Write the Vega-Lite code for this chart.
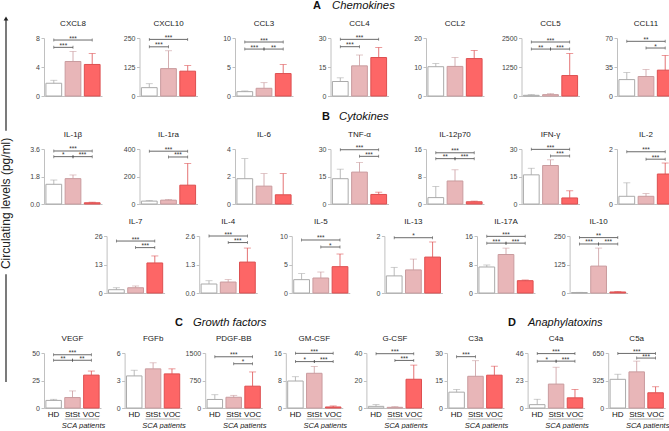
{
"$schema":"https://vega.github.io/schema/vega-lite/v6.json",
"padding":0,
"spacing":17,
"data":{"values":[
{"p":"CXCL8","g":"HD","v":1.76,"u":2.17},{"p":"CXCL8","g":"StSt","v":4.76,"u":6.15},{"p":"CXCL8","g":"VOC","v":4.35,"u":5.87},
{"p":"CXCL10","g":"HD","v":36,"u":53},{"p":"CXCL10","g":"StSt","v":118,"u":195},{"p":"CXCL10","g":"VOC","v":107,"u":131},
{"p":"CCL3","g":"HD","v":0.75,"u":0.87},{"p":"CCL3","g":"StSt","v":1.33,"u":2.3},{"p":"CCL3","g":"VOC","v":3.87,"u":5.43},
{"p":"CCL4","g":"HD","v":7.5,"u":9.4},{"p":"CCL4","g":"StSt","v":15.6,"u":21.2},{"p":"CCL4","g":"VOC","v":19.9,"u":25.1},
{"p":"CCL2","g":"HD","v":10.1,"u":11.2},{"p":"CCL2","g":"StSt","v":10.2,"u":13.3},{"p":"CCL2","g":"VOC","v":12.9,"u":15.7},
{"p":"CCL5","g":"HD","v":30,"u":58},{"p":"CCL5","g":"StSt","v":58,"u":100},{"p":"CCL5","g":"VOC","v":881,"u":1835},
{"p":"CCL11","g":"HD","v":19.8,"u":28.3},{"p":"CCL11","g":"StSt","v":23.5,"u":32},{"p":"CCL11","g":"VOC","v":31.2,"u":49},
{"p":"IL-1β","g":"HD","v":1.29,"u":1.57},{"p":"IL-1β","g":"StSt","v":1.66,"u":1.9},{"p":"IL-1β","g":"VOC","v":0.08,"u":0.12},
{"p":"IL-1ra","g":"HD","v":21,"u":26},{"p":"IL-1ra","g":"StSt","v":28,"u":33},{"p":"IL-1ra","g":"VOC","v":137,"u":295},
{"p":"IL-6","g":"HD","v":1.84,"u":3.3},{"p":"IL-6","g":"StSt","v":1.3,"u":2.21},{"p":"IL-6","g":"VOC","v":0.67,"u":2.21},
{"p":"TNF-α","g":"HD","v":13.8,"u":19},{"p":"TNF-α","g":"StSt","v":17.4,"u":22.7},{"p":"TNF-α","g":"VOC","v":5.2,"u":6.45},
{"p":"IL-12p70","g":"HD","v":1.86,"u":5.1},{"p":"IL-12p70","g":"StSt","v":6.7,"u":9.95},{"p":"IL-12p70","g":"VOC","v":0.65,"u":0.84},
{"p":"IFN-γ","g":"HD","v":15.9,"u":19.5},{"p":"IFN-γ","g":"StSt","v":21,"u":24.1},{"p":"IFN-γ","g":"VOC","v":3.3,"u":7.2},
{"p":"IL-2","g":"HD","v":0.28,"u":0.77},{"p":"IL-2","g":"StSt","v":0.28,"u":0.38},{"p":"IL-2","g":"VOC","v":1.09,"u":1.49},
{"p":"IL-7","g":"HD","v":1.5,"u":2.4},{"p":"IL-7","g":"StSt","v":2.4,"u":3.2},{"p":"IL-7","g":"VOC","v":13.7,"u":16.9},
{"p":"IL-4","g":"HD","v":0.41,"u":0.56},{"p":"IL-4","g":"StSt","v":0.5,"u":0.61},{"p":"IL-4","g":"VOC","v":1.41,"u":2.05},
{"p":"IL-5","g":"HD","v":2.34,"u":3.4},{"p":"IL-5","g":"StSt","v":2.63,"u":3.68},{"p":"IL-5","g":"VOC","v":4.62,"u":6.84},
{"p":"IL-13","g":"HD","v":0.6,"u":0.9},{"p":"IL-13","g":"StSt","v":0.81,"u":1.19},{"p":"IL-13","g":"VOC","v":1.26,"u":1.79},
{"p":"IL-17A","g":"HD","v":7.3,"u":7.86},{"p":"IL-17A","g":"StSt","v":10.8,"u":12.6},{"p":"IL-17A","g":"VOC","v":3.46,"u":3.65},
{"p":"IL-10","g":"HD","v":2,"u":3},{"p":"IL-10","g":"StSt","v":118,"u":197},{"p":"IL-10","g":"VOC","v":4.4,"u":6},
{"p":"VEGF","g":"HD","v":6.9,"u":7.9},{"p":"VEGF","g":"StSt","v":9.5,"u":15.5},{"p":"VEGF","g":"VOC","v":29.9,"u":33.6},
{"p":"FGFb","g":"HD","v":3.5,"u":4.12},{"p":"FGFb","g":"StSt","v":4.27,"u":4.93},{"p":"FGFb","g":"VOC","v":3.72,"u":4.27},
{"p":"PDGF-BB","g":"HD","v":233,"u":362},{"p":"PDGF-BB","g":"StSt","v":293,"u":345},{"p":"PDGF-BB","g":"VOC","v":595,"u":983},
{"p":"GM-CSF","g":"HD","v":7.85,"u":9.1},{"p":"GM-CSF","g":"StSt","v":10.1,"u":12.1},{"p":"GM-CSF","g":"VOC","v":0.3,"u":0.6},
{"p":"G-CSF","g":"HD","v":1.2,"u":2.5},{"p":"G-CSF","g":"StSt","v":0.5,"u":1},{"p":"G-CSF","g":"VOC","v":20.9,"u":31.2},
{"p":"C3a","g":"HD","v":8.65,"u":10.1},{"p":"C3a","g":"StSt","v":17.3,"u":25.8},{"p":"C3a","g":"VOC","v":17.9,"u":22.8},
{"p":"C4a","g":"HD","v":2.8,"u":7.3},{"p":"C4a","g":"StSt","v":20,"u":34.1},{"p":"C4a","g":"VOC","v":8.5,"u":15.5},
{"p":"C5a","g":"HD","v":339,"u":399},{"p":"C5a","g":"StSt","v":427,"u":554},{"p":"C5a","g":"VOC","v":180,"u":251},
{"p":"CXCL8","g":"HD","g2":"VOC","v":7.72,"t":"***"},{"p":"CXCL8","g":"HD","g2":"StSt","v":6.71,"t":"***"},
{"p":"CXCL10","g":"HD","g2":"VOC","v":244,"t":"***"},{"p":"CXCL10","g":"HD","g2":"StSt","v":212,"t":"***"},
{"p":"CCL3","g":"HD","g2":"VOC","v":9.31,"t":"***"},{"p":"CCL3","g":"HD","g2":"StSt","v":8.09,"t":"***"},{"p":"CCL3","g":"StSt","g2":"VOC","v":8.09,"t":"**"},
{"p":"CCL4","g":"HD","g2":"VOC","v":29.3,"t":"***"},{"p":"CCL4","g":"HD","g2":"StSt","v":25.5,"t":"***"},
{"p":"CCL5","g":"HD","g2":"VOC","v":2327,"t":"***"},{"p":"CCL5","g":"HD","g2":"StSt","v":2023,"t":"**"},{"p":"CCL5","g":"StSt","g2":"VOC","v":2023,"t":"***"},
{"p":"CCL11","g":"HD","g2":"VOC","v":66,"t":"**"},{"p":"CCL11","g":"StSt","g2":"VOC","v":57.9,"t":"*"},
{"p":"IL-1β","g":"HD","g2":"VOC","v":3.47,"t":"***"},{"p":"IL-1β","g":"HD","g2":"StSt","v":3.1,"t":"*"},{"p":"IL-1β","g":"StSt","g2":"VOC","v":3.1,"t":"***"},
{"p":"IL-1ra","g":"HD","g2":"VOC","v":384,"t":"***"},{"p":"IL-1ra","g":"StSt","g2":"VOC","v":342,"t":"***"},
{"p":"TNF-α","g":"HD","g2":"VOC","v":29.6,"t":"***"},{"p":"TNF-α","g":"StSt","g2":"VOC","v":26,"t":"***"},
{"p":"IL-12p70","g":"HD","g2":"VOC","v":14.9,"t":"***"},{"p":"IL-12p70","g":"HD","g2":"StSt","v":13.2,"t":"**"},{"p":"IL-12p70","g":"StSt","g2":"VOC","v":13.2,"t":"***"},
{"p":"IFN-γ","g":"HD","g2":"VOC","v":29.8,"t":"***"},{"p":"IFN-γ","g":"StSt","g2":"VOC","v":26.2,"t":"***"},
{"p":"IL-2","g":"HD","g2":"VOC","v":1.9,"t":"***"},{"p":"IL-2","g":"StSt","g2":"VOC","v":1.63,"t":"***"},
{"p":"IL-7","g":"HD","g2":"VOC","v":23.7,"t":"***"},{"p":"IL-7","g":"StSt","g2":"VOC","v":20.7,"t":"***"},
{"p":"IL-4","g":"HD","g2":"VOC","v":2.6,"t":"***"},{"p":"IL-4","g":"StSt","g2":"VOC","v":2.3,"t":"***"},
{"p":"IL-5","g":"HD","g2":"VOC","v":9.3,"t":"***"},{"p":"IL-5","g":"StSt","g2":"VOC","v":8.07,"t":"*"},
{"p":"IL-13","g":"HD","g2":"VOC","v":1.94,"t":"*"},
{"p":"IL-17A","g":"HD","g2":"VOC","v":15.9,"t":"***"},{"p":"IL-17A","g":"HD","g2":"StSt","v":14,"t":"***"},{"p":"IL-17A","g":"StSt","g2":"VOC","v":14,"t":"***"},
{"p":"IL-10","g":"HD","g2":"VOC","v":243,"t":"**"},{"p":"IL-10","g":"HD","g2":"StSt","v":215,"t":"***"},{"p":"IL-10","g":"StSt","g2":"VOC","v":215,"t":"***"},
{"p":"VEGF","g":"HD","g2":"VOC","v":48.4,"t":"***"},{"p":"VEGF","g":"HD","g2":"StSt","v":43.4,"t":"**"},{"p":"VEGF","g":"StSt","g2":"VOC","v":43.4,"t":"**"},
{"p":"PDGF-BB","g":"HD","g2":"VOC","v":1397,"t":"***"},{"p":"PDGF-BB","g":"StSt","g2":"VOC","v":1207,"t":"*"},
{"p":"GM-CSF","g":"HD","g2":"VOC","v":15.9,"t":"***"},{"p":"GM-CSF","g":"HD","g2":"StSt","v":13.5,"t":"*"},{"p":"GM-CSF","g":"StSt","g2":"VOC","v":13.5,"t":"***"},
{"p":"G-CSF","g":"HD","g2":"VOC","v":39.5,"t":"***"},{"p":"G-CSF","g":"StSt","g2":"VOC","v":34.6,"t":"***"},
{"p":"C3a","g":"HD","g2":"StSt","v":28,"t":"***"},
{"p":"C4a","g":"HD","g2":"VOC","v":45.5,"t":"***"},{"p":"C4a","g":"HD","g2":"StSt","v":39.2,"t":"*"},{"p":"C4a","g":"StSt","g2":"VOC","v":39.2,"t":"***"},
{"p":"C5a","g":"HD","g2":"VOC","v":645,"t":"***"},{"p":"C5a","g":"StSt","g2":"VOC","v":590,"t":"***"}
]},
"config":{
"font":"Liberation Sans",
"view":{"stroke":null},
"numberFormat":"d",
"legend":{"disable":true},
"scale":{"bandPaddingInner":0.18,"bandPaddingOuter":0.1},
"range":{"category":["#ffffff","#e8b6b8","#fd6666"],"ordinal":["#aaaaaa","#c99b9e","#dd4f50"]},
"axis":{"domainColor":"#c0c0c0","tickColor":"#c0c0c0","labelColor":"#444","labelFontSize":7,"tickSize":3,"labelPadding":1.5,"grid":false,"domainWidth":1,"tickWidth":1},
"axisX":{"labels":false,"ticks":false,"labelFontSize":8,"labelColor":"#111","labelPadding":2,"labelAngle":0,"titleFontStyle":"italic","titleFontWeight":"normal","titleFontSize":7.5,"titleColor":"#222","titleX":39,"titlePadding":3},
"title":{"fontSize":8,"fontWeight":"normal","color":"#222","offset":6},
"bar":{"strokeWidth":1},
"rule":{"color":"#444","strokeWidth":0.8},
"tick":{"color":"#444","thickness":0.8},
"text":{"fontSize":6.5,"color":"#333"}
},
"hconcat":[
{"width":10,"height":414,"data":{"values":[{}]},"layer":[
{"mark":{"type":"rule","color":"#222","strokeWidth":1.2},"encoding":{"y":{"datum":20,"type":"quantitative","scale":{"domain":[0,414],"reverse":true},"axis":null},"y2":{"datum":141}}},
{"mark":{"type":"rule","color":"#222","strokeWidth":1.2},"encoding":{"y":{"datum":297,"type":"quantitative","axis":null},"y2":{"datum":414}}},
{"mark":{"type":"point","shape":"triangle-up","filled":true,"color":"#222","size":22,"opacity":1},"encoding":{"y":{"datum":19,"type":"quantitative","axis":null}}},
{"mark":{"type":"text","text":"Circulating levels (pg/ml)","angle":270,"fontSize":12,"color":"#222"},"encoding":{"y":{"datum":220,"type":"quantitative","axis":null}}}
]},
{"spacing":0,"vconcat":[
{"width":630,"height":19,"data":{"values":[{}]},"layer":[
{"mark":{"type":"text","text":"A","fontSize":11,"fontWeight":"bold","color":"#111","dx":-42,"dy":-4.5}},
{"mark":{"type":"text","text":"Chemokines","fontSize":11.3,"fontStyle":"italic","color":"#111","align":"left","dx":-27,"dy":-4.5}}]},
{"bounds":"flush","spacing":37.5,"hconcat":[
{"title":"CXCL8","width":58,"height":58,"transform":[{"filter":"datum.p=='CXCL8'"}],"encoding":{"x":{"field":"g","type":"nominal","axis":{"title":null}},"y":{"field":"v","type":"quantitative","scale":{"domain":[0,8]},"axis":{"title":null,"values":[0,4,8]}}},"layer":[
{"transform":[{"filter":"!datum.t"}],"encoding":{"color":{"field":"g","type":"ordinal"}},"layer":[{"mark":"bar","encoding":{"fill":{"field":"g","type":"nominal"},"stroke":{"field":"g","type":"ordinal"}}},{"mark":"rule","encoding":{"y2":{"field":"u"}}},{"mark":{"type":"tick","size":7},"encoding":{"y":{"field":"u","type":"quantitative"}}}]},
{"transform":[{"filter":"datum.t"}],"layer":[{"mark":"rule","encoding":{"x2":{"field":"g2"}}},{"mark":{"type":"tick","orient":"vertical","size":3},"encoding":{}},{"mark":{"type":"tick","orient":"vertical","size":3},"encoding":{"x":{"field":"g2","type":"nominal"}}},{"transform":[{"filter":"datum.g+datum.g2=='HDVOC'"}],"mark":{"type":"text","baseline":"bottom","dy":1.5},"encoding":{"x":{"datum":"StSt"},"text":{"field":"t"}}},{"transform":[{"filter":"datum.g+datum.g2!='HDVOC'"}],"mark":{"type":"text","baseline":"bottom","dy":1.5,"dx":1.7},"encoding":{"x":{"field":"g","type":"nominal","bandPosition":1},"text":{"field":"t"}}}]}]},
{"title":"CXCL10","width":58,"height":58,"transform":[{"filter":"datum.p=='CXCL10'"}],"encoding":{"x":{"field":"g","type":"nominal","axis":{"title":null}},"y":{"field":"v","type":"quantitative","scale":{"domain":[0,250]},"axis":{"title":null,"values":[0,125,250]}}},"layer":[
{"transform":[{"filter":"!datum.t"}],"encoding":{"color":{"field":"g","type":"ordinal"}},"layer":[{"mark":"bar","encoding":{"fill":{"field":"g","type":"nominal"},"stroke":{"field":"g","type":"ordinal"}}},{"mark":"rule","encoding":{"y2":{"field":"u"}}},{"mark":{"type":"tick","size":7},"encoding":{"y":{"field":"u","type":"quantitative"}}}]},
{"transform":[{"filter":"datum.t"}],"layer":[{"mark":"rule","encoding":{"x2":{"field":"g2"}}},{"mark":{"type":"tick","orient":"vertical","size":3},"encoding":{}},{"mark":{"type":"tick","orient":"vertical","size":3},"encoding":{"x":{"field":"g2","type":"nominal"}}},{"transform":[{"filter":"datum.g+datum.g2=='HDVOC'"}],"mark":{"type":"text","baseline":"bottom","dy":1.5},"encoding":{"x":{"datum":"StSt"},"text":{"field":"t"}}},{"transform":[{"filter":"datum.g+datum.g2!='HDVOC'"}],"mark":{"type":"text","baseline":"bottom","dy":1.5,"dx":1.7},"encoding":{"x":{"field":"g","type":"nominal","bandPosition":1},"text":{"field":"t"}}}]}]},
{"title":"CCL3","width":58,"height":58,"transform":[{"filter":"datum.p=='CCL3'"}],"encoding":{"x":{"field":"g","type":"nominal","axis":{"title":null}},"y":{"field":"v","type":"quantitative","scale":{"domain":[0,10]},"axis":{"title":null,"values":[0,5,10]}}},"layer":[
{"transform":[{"filter":"!datum.t"}],"encoding":{"color":{"field":"g","type":"ordinal"}},"layer":[{"mark":"bar","encoding":{"fill":{"field":"g","type":"nominal"},"stroke":{"field":"g","type":"ordinal"}}},{"mark":"rule","encoding":{"y2":{"field":"u"}}},{"mark":{"type":"tick","size":7},"encoding":{"y":{"field":"u","type":"quantitative"}}}]},
{"transform":[{"filter":"datum.t"}],"layer":[{"mark":"rule","encoding":{"x2":{"field":"g2"}}},{"mark":{"type":"tick","orient":"vertical","size":3},"encoding":{}},{"mark":{"type":"tick","orient":"vertical","size":3},"encoding":{"x":{"field":"g2","type":"nominal"}}},{"transform":[{"filter":"datum.g+datum.g2=='HDVOC'"}],"mark":{"type":"text","baseline":"bottom","dy":1.5},"encoding":{"x":{"datum":"StSt"},"text":{"field":"t"}}},{"transform":[{"filter":"datum.g+datum.g2!='HDVOC'"}],"mark":{"type":"text","baseline":"bottom","dy":1.5,"dx":1.7},"encoding":{"x":{"field":"g","type":"nominal","bandPosition":1},"text":{"field":"t"}}}]}]},
{"title":"CCL4","width":58,"height":58,"transform":[{"filter":"datum.p=='CCL4'"}],"encoding":{"x":{"field":"g","type":"nominal","axis":{"title":null}},"y":{"field":"v","type":"quantitative","scale":{"domain":[0,30]},"axis":{"title":null,"values":[0,15,30]}}},"layer":[
{"transform":[{"filter":"!datum.t"}],"encoding":{"color":{"field":"g","type":"ordinal"}},"layer":[{"mark":"bar","encoding":{"fill":{"field":"g","type":"nominal"},"stroke":{"field":"g","type":"ordinal"}}},{"mark":"rule","encoding":{"y2":{"field":"u"}}},{"mark":{"type":"tick","size":7},"encoding":{"y":{"field":"u","type":"quantitative"}}}]},
{"transform":[{"filter":"datum.t"}],"layer":[{"mark":"rule","encoding":{"x2":{"field":"g2"}}},{"mark":{"type":"tick","orient":"vertical","size":3},"encoding":{}},{"mark":{"type":"tick","orient":"vertical","size":3},"encoding":{"x":{"field":"g2","type":"nominal"}}},{"transform":[{"filter":"datum.g+datum.g2=='HDVOC'"}],"mark":{"type":"text","baseline":"bottom","dy":1.5},"encoding":{"x":{"datum":"StSt"},"text":{"field":"t"}}},{"transform":[{"filter":"datum.g+datum.g2!='HDVOC'"}],"mark":{"type":"text","baseline":"bottom","dy":1.5,"dx":1.7},"encoding":{"x":{"field":"g","type":"nominal","bandPosition":1},"text":{"field":"t"}}}]}]},
{"title":"CCL2","width":58,"height":58,"transform":[{"filter":"datum.p=='CCL2'"}],"encoding":{"x":{"field":"g","type":"nominal","axis":{"title":null}},"y":{"field":"v","type":"quantitative","scale":{"domain":[0,20]},"axis":{"title":null,"values":[0,10,20]}}},"layer":[
{"transform":[{"filter":"!datum.t"}],"encoding":{"color":{"field":"g","type":"ordinal"}},"layer":[{"mark":"bar","encoding":{"fill":{"field":"g","type":"nominal"},"stroke":{"field":"g","type":"ordinal"}}},{"mark":"rule","encoding":{"y2":{"field":"u"}}},{"mark":{"type":"tick","size":7},"encoding":{"y":{"field":"u","type":"quantitative"}}}]}]},
{"title":"CCL5","width":58,"height":58,"transform":[{"filter":"datum.p=='CCL5'"}],"encoding":{"x":{"field":"g","type":"nominal","axis":{"title":null}},"y":{"field":"v","type":"quantitative","scale":{"domain":[0,2500]},"axis":{"title":null,"values":[0,1250,2500]}}},"layer":[
{"transform":[{"filter":"!datum.t"}],"encoding":{"color":{"field":"g","type":"ordinal"}},"layer":[{"mark":"bar","encoding":{"fill":{"field":"g","type":"nominal"},"stroke":{"field":"g","type":"ordinal"}}},{"mark":"rule","encoding":{"y2":{"field":"u"}}},{"mark":{"type":"tick","size":7},"encoding":{"y":{"field":"u","type":"quantitative"}}}]},
{"transform":[{"filter":"datum.t"}],"layer":[{"mark":"rule","encoding":{"x2":{"field":"g2"}}},{"mark":{"type":"tick","orient":"vertical","size":3},"encoding":{}},{"mark":{"type":"tick","orient":"vertical","size":3},"encoding":{"x":{"field":"g2","type":"nominal"}}},{"transform":[{"filter":"datum.g+datum.g2=='HDVOC'"}],"mark":{"type":"text","baseline":"bottom","dy":1.5},"encoding":{"x":{"datum":"StSt"},"text":{"field":"t"}}},{"transform":[{"filter":"datum.g+datum.g2!='HDVOC'"}],"mark":{"type":"text","baseline":"bottom","dy":1.5,"dx":1.7},"encoding":{"x":{"field":"g","type":"nominal","bandPosition":1},"text":{"field":"t"}}}]}]},
{"title":"CCL11","width":58,"height":58,"transform":[{"filter":"datum.p=='CCL11'"}],"encoding":{"x":{"field":"g","type":"nominal","axis":{"title":null}},"y":{"field":"v","type":"quantitative","scale":{"domain":[0,70]},"axis":{"title":null,"values":[0,35,70]}}},"layer":[
{"transform":[{"filter":"!datum.t"}],"encoding":{"color":{"field":"g","type":"ordinal"}},"layer":[{"mark":"bar","encoding":{"fill":{"field":"g","type":"nominal"},"stroke":{"field":"g","type":"ordinal"}}},{"mark":"rule","encoding":{"y2":{"field":"u"}}},{"mark":{"type":"tick","size":7},"encoding":{"y":{"field":"u","type":"quantitative"}}}]},
{"transform":[{"filter":"datum.t"}],"layer":[{"mark":"rule","encoding":{"x2":{"field":"g2"}}},{"mark":{"type":"tick","orient":"vertical","size":3},"encoding":{}},{"mark":{"type":"tick","orient":"vertical","size":3},"encoding":{"x":{"field":"g2","type":"nominal"}}},{"transform":[{"filter":"datum.g+datum.g2=='HDVOC'"}],"mark":{"type":"text","baseline":"bottom","dy":1.5},"encoding":{"x":{"datum":"StSt"},"text":{"field":"t"}}},{"transform":[{"filter":"datum.g+datum.g2!='HDVOC'"}],"mark":{"type":"text","baseline":"bottom","dy":1.5,"dx":1.7},"encoding":{"x":{"field":"g","type":"nominal","bandPosition":1},"text":{"field":"t"}}}]}]}
]},
{"width":630,"height":30.5,"data":{"values":[{}]},"layer":[
{"mark":{"type":"text","text":"B","fontSize":11,"fontWeight":"bold","color":"#111","dx":-33,"dy":3}},
{"mark":{"type":"text","text":"Cytokines","fontSize":11.3,"fontStyle":"italic","color":"#111","align":"left","dx":-20,"dy":3}}]},
{"bounds":"flush","spacing":37.5,"hconcat":[
{"title":"IL-1β","width":58,"height":55,"transform":[{"filter":"datum.p=='IL-1β'"}],"encoding":{"x":{"field":"g","type":"nominal","axis":{"title":null}},"y":{"field":"v","type":"quantitative","scale":{"domain":[0,3.6]},"axis":{"title":null,"values":[0,1.8,3.6],"format":".1f"}}},"layer":[
{"transform":[{"filter":"!datum.t"}],"encoding":{"color":{"field":"g","type":"ordinal"}},"layer":[{"mark":"bar","encoding":{"fill":{"field":"g","type":"nominal"},"stroke":{"field":"g","type":"ordinal"}}},{"mark":"rule","encoding":{"y2":{"field":"u"}}},{"mark":{"type":"tick","size":7},"encoding":{"y":{"field":"u","type":"quantitative"}}}]},
{"transform":[{"filter":"datum.t"}],"layer":[{"mark":"rule","encoding":{"x2":{"field":"g2"}}},{"mark":{"type":"tick","orient":"vertical","size":3},"encoding":{}},{"mark":{"type":"tick","orient":"vertical","size":3},"encoding":{"x":{"field":"g2","type":"nominal"}}},{"transform":[{"filter":"datum.g+datum.g2=='HDVOC'"}],"mark":{"type":"text","baseline":"bottom","dy":1.5},"encoding":{"x":{"datum":"StSt"},"text":{"field":"t"}}},{"transform":[{"filter":"datum.g+datum.g2!='HDVOC'"}],"mark":{"type":"text","baseline":"bottom","dy":1.5,"dx":1.7},"encoding":{"x":{"field":"g","type":"nominal","bandPosition":1},"text":{"field":"t"}}}]}]},
{"title":"IL-1ra","width":58,"height":55,"transform":[{"filter":"datum.p=='IL-1ra'"}],"encoding":{"x":{"field":"g","type":"nominal","axis":{"title":null}},"y":{"field":"v","type":"quantitative","scale":{"domain":[0,400]},"axis":{"title":null,"values":[0,200,400]}}},"layer":[
{"transform":[{"filter":"!datum.t"}],"encoding":{"color":{"field":"g","type":"ordinal"}},"layer":[{"mark":"bar","encoding":{"fill":{"field":"g","type":"nominal"},"stroke":{"field":"g","type":"ordinal"}}},{"mark":"rule","encoding":{"y2":{"field":"u"}}},{"mark":{"type":"tick","size":7},"encoding":{"y":{"field":"u","type":"quantitative"}}}]},
{"transform":[{"filter":"datum.t"}],"layer":[{"mark":"rule","encoding":{"x2":{"field":"g2"}}},{"mark":{"type":"tick","orient":"vertical","size":3},"encoding":{}},{"mark":{"type":"tick","orient":"vertical","size":3},"encoding":{"x":{"field":"g2","type":"nominal"}}},{"transform":[{"filter":"datum.g+datum.g2=='HDVOC'"}],"mark":{"type":"text","baseline":"bottom","dy":1.5},"encoding":{"x":{"datum":"StSt"},"text":{"field":"t"}}},{"transform":[{"filter":"datum.g+datum.g2!='HDVOC'"}],"mark":{"type":"text","baseline":"bottom","dy":1.5,"dx":1.7},"encoding":{"x":{"field":"g","type":"nominal","bandPosition":1},"text":{"field":"t"}}}]}]},
{"title":"IL-6","width":58,"height":55,"transform":[{"filter":"datum.p=='IL-6'"}],"encoding":{"x":{"field":"g","type":"nominal","axis":{"title":null}},"y":{"field":"v","type":"quantitative","scale":{"domain":[0,4]},"axis":{"title":null,"values":[0,2,4]}}},"layer":[
{"transform":[{"filter":"!datum.t"}],"encoding":{"color":{"field":"g","type":"ordinal"}},"layer":[{"mark":"bar","encoding":{"fill":{"field":"g","type":"nominal"},"stroke":{"field":"g","type":"ordinal"}}},{"mark":"rule","encoding":{"y2":{"field":"u"}}},{"mark":{"type":"tick","size":7},"encoding":{"y":{"field":"u","type":"quantitative"}}}]}]},
{"title":"TNF-α","width":58,"height":55,"transform":[{"filter":"datum.p=='TNF-α'"}],"encoding":{"x":{"field":"g","type":"nominal","axis":{"title":null}},"y":{"field":"v","type":"quantitative","scale":{"domain":[0,30]},"axis":{"title":null,"values":[0,15,30]}}},"layer":[
{"transform":[{"filter":"!datum.t"}],"encoding":{"color":{"field":"g","type":"ordinal"}},"layer":[{"mark":"bar","encoding":{"fill":{"field":"g","type":"nominal"},"stroke":{"field":"g","type":"ordinal"}}},{"mark":"rule","encoding":{"y2":{"field":"u"}}},{"mark":{"type":"tick","size":7},"encoding":{"y":{"field":"u","type":"quantitative"}}}]},
{"transform":[{"filter":"datum.t"}],"layer":[{"mark":"rule","encoding":{"x2":{"field":"g2"}}},{"mark":{"type":"tick","orient":"vertical","size":3},"encoding":{}},{"mark":{"type":"tick","orient":"vertical","size":3},"encoding":{"x":{"field":"g2","type":"nominal"}}},{"transform":[{"filter":"datum.g+datum.g2=='HDVOC'"}],"mark":{"type":"text","baseline":"bottom","dy":1.5},"encoding":{"x":{"datum":"StSt"},"text":{"field":"t"}}},{"transform":[{"filter":"datum.g+datum.g2!='HDVOC'"}],"mark":{"type":"text","baseline":"bottom","dy":1.5,"dx":1.7},"encoding":{"x":{"field":"g","type":"nominal","bandPosition":1},"text":{"field":"t"}}}]}]},
{"title":"IL-12p70","width":58,"height":55,"transform":[{"filter":"datum.p=='IL-12p70'"}],"encoding":{"x":{"field":"g","type":"nominal","axis":{"title":null}},"y":{"field":"v","type":"quantitative","scale":{"domain":[0,16]},"axis":{"title":null,"values":[0,8,16]}}},"layer":[
{"transform":[{"filter":"!datum.t"}],"encoding":{"color":{"field":"g","type":"ordinal"}},"layer":[{"mark":"bar","encoding":{"fill":{"field":"g","type":"nominal"},"stroke":{"field":"g","type":"ordinal"}}},{"mark":"rule","encoding":{"y2":{"field":"u"}}},{"mark":{"type":"tick","size":7},"encoding":{"y":{"field":"u","type":"quantitative"}}}]},
{"transform":[{"filter":"datum.t"}],"layer":[{"mark":"rule","encoding":{"x2":{"field":"g2"}}},{"mark":{"type":"tick","orient":"vertical","size":3},"encoding":{}},{"mark":{"type":"tick","orient":"vertical","size":3},"encoding":{"x":{"field":"g2","type":"nominal"}}},{"transform":[{"filter":"datum.g+datum.g2=='HDVOC'"}],"mark":{"type":"text","baseline":"bottom","dy":1.5},"encoding":{"x":{"datum":"StSt"},"text":{"field":"t"}}},{"transform":[{"filter":"datum.g+datum.g2!='HDVOC'"}],"mark":{"type":"text","baseline":"bottom","dy":1.5,"dx":1.7},"encoding":{"x":{"field":"g","type":"nominal","bandPosition":1},"text":{"field":"t"}}}]}]},
{"title":"IFN-γ","width":58,"height":55,"transform":[{"filter":"datum.p=='IFN-γ'"}],"encoding":{"x":{"field":"g","type":"nominal","axis":{"title":null}},"y":{"field":"v","type":"quantitative","scale":{"domain":[0,30]},"axis":{"title":null,"values":[0,15,30]}}},"layer":[
{"transform":[{"filter":"!datum.t"}],"encoding":{"color":{"field":"g","type":"ordinal"}},"layer":[{"mark":"bar","encoding":{"fill":{"field":"g","type":"nominal"},"stroke":{"field":"g","type":"ordinal"}}},{"mark":"rule","encoding":{"y2":{"field":"u"}}},{"mark":{"type":"tick","size":7},"encoding":{"y":{"field":"u","type":"quantitative"}}}]},
{"transform":[{"filter":"datum.t"}],"layer":[{"mark":"rule","encoding":{"x2":{"field":"g2"}}},{"mark":{"type":"tick","orient":"vertical","size":3},"encoding":{}},{"mark":{"type":"tick","orient":"vertical","size":3},"encoding":{"x":{"field":"g2","type":"nominal"}}},{"transform":[{"filter":"datum.g+datum.g2=='HDVOC'"}],"mark":{"type":"text","baseline":"bottom","dy":1.5},"encoding":{"x":{"datum":"StSt"},"text":{"field":"t"}}},{"transform":[{"filter":"datum.g+datum.g2!='HDVOC'"}],"mark":{"type":"text","baseline":"bottom","dy":1.5,"dx":1.7},"encoding":{"x":{"field":"g","type":"nominal","bandPosition":1},"text":{"field":"t"}}}]}]},
{"title":"IL-2","width":58,"height":55,"transform":[{"filter":"datum.p=='IL-2'"}],"encoding":{"x":{"field":"g","type":"nominal","axis":{"title":null}},"y":{"field":"v","type":"quantitative","scale":{"domain":[0,2]},"axis":{"title":null,"values":[0,1,2]}}},"layer":[
{"transform":[{"filter":"!datum.t"}],"encoding":{"color":{"field":"g","type":"ordinal"}},"layer":[{"mark":"bar","encoding":{"fill":{"field":"g","type":"nominal"},"stroke":{"field":"g","type":"ordinal"}}},{"mark":"rule","encoding":{"y2":{"field":"u"}}},{"mark":{"type":"tick","size":7},"encoding":{"y":{"field":"u","type":"quantitative"}}}]},
{"transform":[{"filter":"datum.t"}],"layer":[{"mark":"rule","encoding":{"x2":{"field":"g2"}}},{"mark":{"type":"tick","orient":"vertical","size":3},"encoding":{}},{"mark":{"type":"tick","orient":"vertical","size":3},"encoding":{"x":{"field":"g2","type":"nominal"}}},{"transform":[{"filter":"datum.g+datum.g2=='HDVOC'"}],"mark":{"type":"text","baseline":"bottom","dy":1.5},"encoding":{"x":{"datum":"StSt"},"text":{"field":"t"}}},{"transform":[{"filter":"datum.g+datum.g2!='HDVOC'"}],"mark":{"type":"text","baseline":"bottom","dy":1.5,"dx":1.7},"encoding":{"x":{"field":"g","type":"nominal","bandPosition":1},"text":{"field":"t"}}}]}]}
]},
{"width":1,"height":10,"data":{"values":[{}]},"mark":{"type":"text","text":""}},
{"bounds":"flush","spacing":34.6,"hconcat":[
{"width":27.4,"height":1,"data":{"values":[{}]},"mark":{"type":"text","text":""}},
{"title":"IL-7","width":58,"height":57,"transform":[{"filter":"datum.p=='IL-7'"}],"encoding":{"x":{"field":"g","type":"nominal","axis":{"title":null}},"y":{"field":"v","type":"quantitative","scale":{"domain":[0,26]},"axis":{"title":null,"values":[0,13,26]}}},"layer":[
{"transform":[{"filter":"!datum.t"}],"encoding":{"color":{"field":"g","type":"ordinal"}},"layer":[{"mark":"bar","encoding":{"fill":{"field":"g","type":"nominal"},"stroke":{"field":"g","type":"ordinal"}}},{"mark":"rule","encoding":{"y2":{"field":"u"}}},{"mark":{"type":"tick","size":7},"encoding":{"y":{"field":"u","type":"quantitative"}}}]},
{"transform":[{"filter":"datum.t"}],"layer":[{"mark":"rule","encoding":{"x2":{"field":"g2"}}},{"mark":{"type":"tick","orient":"vertical","size":3},"encoding":{}},{"mark":{"type":"tick","orient":"vertical","size":3},"encoding":{"x":{"field":"g2","type":"nominal"}}},{"transform":[{"filter":"datum.g+datum.g2=='HDVOC'"}],"mark":{"type":"text","baseline":"bottom","dy":1.5},"encoding":{"x":{"datum":"StSt"},"text":{"field":"t"}}},{"transform":[{"filter":"datum.g+datum.g2!='HDVOC'"}],"mark":{"type":"text","baseline":"bottom","dy":1.5,"dx":1.7},"encoding":{"x":{"field":"g","type":"nominal","bandPosition":1},"text":{"field":"t"}}}]}]},
{"title":"IL-4","width":58,"height":57,"transform":[{"filter":"datum.p=='IL-4'"}],"encoding":{"x":{"field":"g","type":"nominal","axis":{"title":null}},"y":{"field":"v","type":"quantitative","scale":{"domain":[0,2.6]},"axis":{"title":null,"values":[0,1.3,2.6],"format":".1f"}}},"layer":[
{"transform":[{"filter":"!datum.t"}],"encoding":{"color":{"field":"g","type":"ordinal"}},"layer":[{"mark":"bar","encoding":{"fill":{"field":"g","type":"nominal"},"stroke":{"field":"g","type":"ordinal"}}},{"mark":"rule","encoding":{"y2":{"field":"u"}}},{"mark":{"type":"tick","size":7},"encoding":{"y":{"field":"u","type":"quantitative"}}}]},
{"transform":[{"filter":"datum.t"}],"layer":[{"mark":"rule","encoding":{"x2":{"field":"g2"}}},{"mark":{"type":"tick","orient":"vertical","size":3},"encoding":{}},{"mark":{"type":"tick","orient":"vertical","size":3},"encoding":{"x":{"field":"g2","type":"nominal"}}},{"transform":[{"filter":"datum.g+datum.g2=='HDVOC'"}],"mark":{"type":"text","baseline":"bottom","dy":1.5},"encoding":{"x":{"datum":"StSt"},"text":{"field":"t"}}},{"transform":[{"filter":"datum.g+datum.g2!='HDVOC'"}],"mark":{"type":"text","baseline":"bottom","dy":1.5,"dx":1.7},"encoding":{"x":{"field":"g","type":"nominal","bandPosition":1},"text":{"field":"t"}}}]}]},
{"title":"IL-5","width":58,"height":57,"transform":[{"filter":"datum.p=='IL-5'"}],"encoding":{"x":{"field":"g","type":"nominal","axis":{"title":null}},"y":{"field":"v","type":"quantitative","scale":{"domain":[0,10]},"axis":{"title":null,"values":[0,5,10]}}},"layer":[
{"transform":[{"filter":"!datum.t"}],"encoding":{"color":{"field":"g","type":"ordinal"}},"layer":[{"mark":"bar","encoding":{"fill":{"field":"g","type":"nominal"},"stroke":{"field":"g","type":"ordinal"}}},{"mark":"rule","encoding":{"y2":{"field":"u"}}},{"mark":{"type":"tick","size":7},"encoding":{"y":{"field":"u","type":"quantitative"}}}]},
{"transform":[{"filter":"datum.t"}],"layer":[{"mark":"rule","encoding":{"x2":{"field":"g2"}}},{"mark":{"type":"tick","orient":"vertical","size":3},"encoding":{}},{"mark":{"type":"tick","orient":"vertical","size":3},"encoding":{"x":{"field":"g2","type":"nominal"}}},{"transform":[{"filter":"datum.g+datum.g2=='HDVOC'"}],"mark":{"type":"text","baseline":"bottom","dy":1.5},"encoding":{"x":{"datum":"StSt"},"text":{"field":"t"}}},{"transform":[{"filter":"datum.g+datum.g2!='HDVOC'"}],"mark":{"type":"text","baseline":"bottom","dy":1.5,"dx":1.7},"encoding":{"x":{"field":"g","type":"nominal","bandPosition":1},"text":{"field":"t"}}}]}]},
{"title":"IL-13","width":58,"height":57,"transform":[{"filter":"datum.p=='IL-13'"}],"encoding":{"x":{"field":"g","type":"nominal","axis":{"title":null}},"y":{"field":"v","type":"quantitative","scale":{"domain":[0,2]},"axis":{"title":null,"values":[0,1,2]}}},"layer":[
{"transform":[{"filter":"!datum.t"}],"encoding":{"color":{"field":"g","type":"ordinal"}},"layer":[{"mark":"bar","encoding":{"fill":{"field":"g","type":"nominal"},"stroke":{"field":"g","type":"ordinal"}}},{"mark":"rule","encoding":{"y2":{"field":"u"}}},{"mark":{"type":"tick","size":7},"encoding":{"y":{"field":"u","type":"quantitative"}}}]},
{"transform":[{"filter":"datum.t"}],"layer":[{"mark":"rule","encoding":{"x2":{"field":"g2"}}},{"mark":{"type":"tick","orient":"vertical","size":3},"encoding":{}},{"mark":{"type":"tick","orient":"vertical","size":3},"encoding":{"x":{"field":"g2","type":"nominal"}}},{"transform":[{"filter":"datum.g+datum.g2=='HDVOC'"}],"mark":{"type":"text","baseline":"bottom","dy":1.5},"encoding":{"x":{"datum":"StSt"},"text":{"field":"t"}}},{"transform":[{"filter":"datum.g+datum.g2!='HDVOC'"}],"mark":{"type":"text","baseline":"bottom","dy":1.5,"dx":1.7},"encoding":{"x":{"field":"g","type":"nominal","bandPosition":1},"text":{"field":"t"}}}]}]},
{"title":"IL-17A","width":58,"height":57,"transform":[{"filter":"datum.p=='IL-17A'"}],"encoding":{"x":{"field":"g","type":"nominal","axis":{"title":null}},"y":{"field":"v","type":"quantitative","scale":{"domain":[0,16]},"axis":{"title":null,"values":[0,8,16]}}},"layer":[
{"transform":[{"filter":"!datum.t"}],"encoding":{"color":{"field":"g","type":"ordinal"}},"layer":[{"mark":"bar","encoding":{"fill":{"field":"g","type":"nominal"},"stroke":{"field":"g","type":"ordinal"}}},{"mark":"rule","encoding":{"y2":{"field":"u"}}},{"mark":{"type":"tick","size":7},"encoding":{"y":{"field":"u","type":"quantitative"}}}]},
{"transform":[{"filter":"datum.t"}],"layer":[{"mark":"rule","encoding":{"x2":{"field":"g2"}}},{"mark":{"type":"tick","orient":"vertical","size":3},"encoding":{}},{"mark":{"type":"tick","orient":"vertical","size":3},"encoding":{"x":{"field":"g2","type":"nominal"}}},{"transform":[{"filter":"datum.g+datum.g2=='HDVOC'"}],"mark":{"type":"text","baseline":"bottom","dy":1.5},"encoding":{"x":{"datum":"StSt"},"text":{"field":"t"}}},{"transform":[{"filter":"datum.g+datum.g2!='HDVOC'"}],"mark":{"type":"text","baseline":"bottom","dy":1.5,"dx":1.7},"encoding":{"x":{"field":"g","type":"nominal","bandPosition":1},"text":{"field":"t"}}}]}]},
{"title":"IL-10","width":58,"height":57,"transform":[{"filter":"datum.p=='IL-10'"}],"encoding":{"x":{"field":"g","type":"nominal","axis":{"title":null}},"y":{"field":"v","type":"quantitative","scale":{"domain":[0,250]},"axis":{"title":null,"values":[0,125,250]}}},"layer":[
{"transform":[{"filter":"!datum.t"}],"encoding":{"color":{"field":"g","type":"ordinal"}},"layer":[{"mark":"bar","encoding":{"fill":{"field":"g","type":"nominal"},"stroke":{"field":"g","type":"ordinal"}}},{"mark":"rule","encoding":{"y2":{"field":"u"}}},{"mark":{"type":"tick","size":7},"encoding":{"y":{"field":"u","type":"quantitative"}}}]},
{"transform":[{"filter":"datum.t"}],"layer":[{"mark":"rule","encoding":{"x2":{"field":"g2"}}},{"mark":{"type":"tick","orient":"vertical","size":3},"encoding":{}},{"mark":{"type":"tick","orient":"vertical","size":3},"encoding":{"x":{"field":"g2","type":"nominal"}}},{"transform":[{"filter":"datum.g+datum.g2=='HDVOC'"}],"mark":{"type":"text","baseline":"bottom","dy":1.5},"encoding":{"x":{"datum":"StSt"},"text":{"field":"t"}}},{"transform":[{"filter":"datum.g+datum.g2!='HDVOC'"}],"mark":{"type":"text","baseline":"bottom","dy":1.5,"dx":1.7},"encoding":{"x":{"field":"g","type":"nominal","bandPosition":1},"text":{"field":"t"}}}]}]}
]},
{"width":630,"height":38,"data":{"values":[{}]},"layer":[
{"mark":{"type":"text","text":"C","fontSize":11,"fontWeight":"bold","color":"#111","dx":-180,"dy":8}},
{"mark":{"type":"text","text":"Growth factors","fontSize":11.3,"fontStyle":"italic","color":"#111","align":"left","dx":-166,"dy":8}},
{"mark":{"type":"text","text":"D","fontSize":11,"fontWeight":"bold","color":"#111","dx":153,"dy":8}},
{"mark":{"type":"text","text":"Anaphylatoxins","fontSize":11,"fontStyle":"italic","color":"#111","align":"left","dx":169,"dy":8}}]},
{"bounds":"flush","spacing":23.6,"hconcat":[
{"title":"VEGF","width":57,"height":55,"transform":[{"filter":"datum.p=='VEGF'"}],"encoding":{"x":{"field":"g","type":"nominal","axis":{"title":"SCA patients","labels":true}},"y":{"field":"v","type":"quantitative","scale":{"domain":[0,50]},"axis":{"title":null,"values":[0,25,50]}}},"layer":[
{"transform":[{"filter":"!datum.t"}],"encoding":{"color":{"field":"g","type":"ordinal"}},"layer":[{"mark":"bar","encoding":{"fill":{"field":"g","type":"nominal"},"stroke":{"field":"g","type":"ordinal"}}},{"mark":"rule","encoding":{"y2":{"field":"u"}}},{"mark":{"type":"tick","size":7},"encoding":{"y":{"field":"u","type":"quantitative"}}}]},
{"transform":[{"filter":"datum.t"}],"layer":[{"mark":"rule","encoding":{"x2":{"field":"g2"}}},{"mark":{"type":"tick","orient":"vertical","size":3},"encoding":{}},{"mark":{"type":"tick","orient":"vertical","size":3},"encoding":{"x":{"field":"g2","type":"nominal"}}},{"transform":[{"filter":"datum.g+datum.g2=='HDVOC'"}],"mark":{"type":"text","baseline":"bottom","dy":1.5},"encoding":{"x":{"datum":"StSt"},"text":{"field":"t"}}},{"transform":[{"filter":"datum.g+datum.g2!='HDVOC'"}],"mark":{"type":"text","baseline":"bottom","dy":1.5,"dx":1.7},"encoding":{"x":{"field":"g","type":"nominal","bandPosition":1},"text":{"field":"t"}}}]},
{"transform":[{"filter":"datum.g=='VOC'&&!datum.t"}],"mark":{"type":"rule","color":"#999"},"encoding":{"x":{"datum":"StSt","bandPosition":0},"x2":{"datum":"VOC","bandPosition":1},"y":{"datum":-10},"y2":null}}]},
{"title":"FGFb","width":57,"height":55,"transform":[{"filter":"datum.p=='FGFb'"}],"encoding":{"x":{"field":"g","type":"nominal","axis":{"title":"SCA patients","labels":true}},"y":{"field":"v","type":"quantitative","scale":{"domain":[0,6]},"axis":{"title":null,"values":[0,3,6]}}},"layer":[
{"transform":[{"filter":"!datum.t"}],"encoding":{"color":{"field":"g","type":"ordinal"}},"layer":[{"mark":"bar","encoding":{"fill":{"field":"g","type":"nominal"},"stroke":{"field":"g","type":"ordinal"}}},{"mark":"rule","encoding":{"y2":{"field":"u"}}},{"mark":{"type":"tick","size":7},"encoding":{"y":{"field":"u","type":"quantitative"}}}]},
{"transform":[{"filter":"datum.g=='VOC'&&!datum.t"}],"mark":{"type":"rule","color":"#999"},"encoding":{"x":{"datum":"StSt","bandPosition":0},"x2":{"datum":"VOC","bandPosition":1},"y":{"datum":-1.2},"y2":null}}]},
{"title":"PDGF-BB","width":57,"height":55,"transform":[{"filter":"datum.p=='PDGF-BB'"}],"encoding":{"x":{"field":"g","type":"nominal","axis":{"title":"SCA patients","labels":true}},"y":{"field":"v","type":"quantitative","scale":{"domain":[0,1500]},"axis":{"title":null,"values":[0,750,1500]}}},"layer":[
{"transform":[{"filter":"!datum.t"}],"encoding":{"color":{"field":"g","type":"ordinal"}},"layer":[{"mark":"bar","encoding":{"fill":{"field":"g","type":"nominal"},"stroke":{"field":"g","type":"ordinal"}}},{"mark":"rule","encoding":{"y2":{"field":"u"}}},{"mark":{"type":"tick","size":7},"encoding":{"y":{"field":"u","type":"quantitative"}}}]},
{"transform":[{"filter":"datum.t"}],"layer":[{"mark":"rule","encoding":{"x2":{"field":"g2"}}},{"mark":{"type":"tick","orient":"vertical","size":3},"encoding":{}},{"mark":{"type":"tick","orient":"vertical","size":3},"encoding":{"x":{"field":"g2","type":"nominal"}}},{"transform":[{"filter":"datum.g+datum.g2=='HDVOC'"}],"mark":{"type":"text","baseline":"bottom","dy":1.5},"encoding":{"x":{"datum":"StSt"},"text":{"field":"t"}}},{"transform":[{"filter":"datum.g+datum.g2!='HDVOC'"}],"mark":{"type":"text","baseline":"bottom","dy":1.5,"dx":1.7},"encoding":{"x":{"field":"g","type":"nominal","bandPosition":1},"text":{"field":"t"}}}]},
{"transform":[{"filter":"datum.g=='VOC'&&!datum.t"}],"mark":{"type":"rule","color":"#999"},"encoding":{"x":{"datum":"StSt","bandPosition":0},"x2":{"datum":"VOC","bandPosition":1},"y":{"datum":-300},"y2":null}}]},
{"title":"GM-CSF","width":57,"height":55,"transform":[{"filter":"datum.p=='GM-CSF'"}],"encoding":{"x":{"field":"g","type":"nominal","axis":{"title":"SCA patients","labels":true}},"y":{"field":"v","type":"quantitative","scale":{"domain":[0,16]},"axis":{"title":null,"values":[0,8,16]}}},"layer":[
{"transform":[{"filter":"!datum.t"}],"encoding":{"color":{"field":"g","type":"ordinal"}},"layer":[{"mark":"bar","encoding":{"fill":{"field":"g","type":"nominal"},"stroke":{"field":"g","type":"ordinal"}}},{"mark":"rule","encoding":{"y2":{"field":"u"}}},{"mark":{"type":"tick","size":7},"encoding":{"y":{"field":"u","type":"quantitative"}}}]},
{"transform":[{"filter":"datum.t"}],"layer":[{"mark":"rule","encoding":{"x2":{"field":"g2"}}},{"mark":{"type":"tick","orient":"vertical","size":3},"encoding":{}},{"mark":{"type":"tick","orient":"vertical","size":3},"encoding":{"x":{"field":"g2","type":"nominal"}}},{"transform":[{"filter":"datum.g+datum.g2=='HDVOC'"}],"mark":{"type":"text","baseline":"bottom","dy":1.5},"encoding":{"x":{"datum":"StSt"},"text":{"field":"t"}}},{"transform":[{"filter":"datum.g+datum.g2!='HDVOC'"}],"mark":{"type":"text","baseline":"bottom","dy":1.5,"dx":1.7},"encoding":{"x":{"field":"g","type":"nominal","bandPosition":1},"text":{"field":"t"}}}]},
{"transform":[{"filter":"datum.g=='VOC'&&!datum.t"}],"mark":{"type":"rule","color":"#999"},"encoding":{"x":{"datum":"StSt","bandPosition":0},"x2":{"datum":"VOC","bandPosition":1},"y":{"datum":-3.2},"y2":null}}]},
{"title":"G-CSF","width":57,"height":55,"transform":[{"filter":"datum.p=='G-CSF'"}],"encoding":{"x":{"field":"g","type":"nominal","axis":{"title":"SCA patients","labels":true}},"y":{"field":"v","type":"quantitative","scale":{"domain":[0,40]},"axis":{"title":null,"values":[0,20,40]}}},"layer":[
{"transform":[{"filter":"!datum.t"}],"encoding":{"color":{"field":"g","type":"ordinal"}},"layer":[{"mark":"bar","encoding":{"fill":{"field":"g","type":"nominal"},"stroke":{"field":"g","type":"ordinal"}}},{"mark":"rule","encoding":{"y2":{"field":"u"}}},{"mark":{"type":"tick","size":7},"encoding":{"y":{"field":"u","type":"quantitative"}}}]},
{"transform":[{"filter":"datum.t"}],"layer":[{"mark":"rule","encoding":{"x2":{"field":"g2"}}},{"mark":{"type":"tick","orient":"vertical","size":3},"encoding":{}},{"mark":{"type":"tick","orient":"vertical","size":3},"encoding":{"x":{"field":"g2","type":"nominal"}}},{"transform":[{"filter":"datum.g+datum.g2=='HDVOC'"}],"mark":{"type":"text","baseline":"bottom","dy":1.5},"encoding":{"x":{"datum":"StSt"},"text":{"field":"t"}}},{"transform":[{"filter":"datum.g+datum.g2!='HDVOC'"}],"mark":{"type":"text","baseline":"bottom","dy":1.5,"dx":1.7},"encoding":{"x":{"field":"g","type":"nominal","bandPosition":1},"text":{"field":"t"}}}]},
{"transform":[{"filter":"datum.g=='VOC'&&!datum.t"}],"mark":{"type":"rule","color":"#999"},"encoding":{"x":{"datum":"StSt","bandPosition":0},"x2":{"datum":"VOC","bandPosition":1},"y":{"datum":-8},"y2":null}}]},
{"title":"C3a","width":57,"height":55,"transform":[{"filter":"datum.p=='C3a'"}],"encoding":{"x":{"field":"g","type":"nominal","axis":{"title":"SCA patients","labels":true}},"y":{"field":"v","type":"quantitative","scale":{"domain":[0,30]},"axis":{"title":null,"values":[0,15,30]}}},"layer":[
{"transform":[{"filter":"!datum.t"}],"encoding":{"color":{"field":"g","type":"ordinal"}},"layer":[{"mark":"bar","encoding":{"fill":{"field":"g","type":"nominal"},"stroke":{"field":"g","type":"ordinal"}}},{"mark":"rule","encoding":{"y2":{"field":"u"}}},{"mark":{"type":"tick","size":7},"encoding":{"y":{"field":"u","type":"quantitative"}}}]},
{"transform":[{"filter":"datum.t"}],"layer":[{"mark":"rule","encoding":{"x2":{"field":"g2"}}},{"mark":{"type":"tick","orient":"vertical","size":3},"encoding":{}},{"mark":{"type":"tick","orient":"vertical","size":3},"encoding":{"x":{"field":"g2","type":"nominal"}}},{"transform":[{"filter":"datum.g+datum.g2=='HDVOC'"}],"mark":{"type":"text","baseline":"bottom","dy":1.5},"encoding":{"x":{"datum":"StSt"},"text":{"field":"t"}}},{"transform":[{"filter":"datum.g+datum.g2!='HDVOC'"}],"mark":{"type":"text","baseline":"bottom","dy":1.5,"dx":1.7},"encoding":{"x":{"field":"g","type":"nominal","bandPosition":1},"text":{"field":"t"}}}]},
{"transform":[{"filter":"datum.g=='VOC'&&!datum.t"}],"mark":{"type":"rule","color":"#999"},"encoding":{"x":{"datum":"StSt","bandPosition":0},"x2":{"datum":"VOC","bandPosition":1},"y":{"datum":-6},"y2":null}}]},
{"title":"C4a","width":57,"height":55,"transform":[{"filter":"datum.p=='C4a'"}],"encoding":{"x":{"field":"g","type":"nominal","axis":{"title":"SCA patients","labels":true}},"y":{"field":"v","type":"quantitative","scale":{"domain":[0,46]},"axis":{"title":null,"values":[0,23,46]}}},"layer":[
{"transform":[{"filter":"!datum.t"}],"encoding":{"color":{"field":"g","type":"ordinal"}},"layer":[{"mark":"bar","encoding":{"fill":{"field":"g","type":"nominal"},"stroke":{"field":"g","type":"ordinal"}}},{"mark":"rule","encoding":{"y2":{"field":"u"}}},{"mark":{"type":"tick","size":7},"encoding":{"y":{"field":"u","type":"quantitative"}}}]},
{"transform":[{"filter":"datum.t"}],"layer":[{"mark":"rule","encoding":{"x2":{"field":"g2"}}},{"mark":{"type":"tick","orient":"vertical","size":3},"encoding":{}},{"mark":{"type":"tick","orient":"vertical","size":3},"encoding":{"x":{"field":"g2","type":"nominal"}}},{"transform":[{"filter":"datum.g+datum.g2=='HDVOC'"}],"mark":{"type":"text","baseline":"bottom","dy":1.5},"encoding":{"x":{"datum":"StSt"},"text":{"field":"t"}}},{"transform":[{"filter":"datum.g+datum.g2!='HDVOC'"}],"mark":{"type":"text","baseline":"bottom","dy":1.5,"dx":1.7},"encoding":{"x":{"field":"g","type":"nominal","bandPosition":1},"text":{"field":"t"}}}]},
{"transform":[{"filter":"datum.g=='VOC'&&!datum.t"}],"mark":{"type":"rule","color":"#999"},"encoding":{"x":{"datum":"StSt","bandPosition":0},"x2":{"datum":"VOC","bandPosition":1},"y":{"datum":-9.2},"y2":null}}]},
{"title":"C5a","width":57,"height":55,"transform":[{"filter":"datum.p=='C5a'"}],"encoding":{"x":{"field":"g","type":"nominal","axis":{"title":"SCA patients","labels":true}},"y":{"field":"v","type":"quantitative","scale":{"domain":[0,650]},"axis":{"title":null,"values":[0,325,650]}}},"layer":[
{"transform":[{"filter":"!datum.t"}],"encoding":{"color":{"field":"g","type":"ordinal"}},"layer":[{"mark":"bar","encoding":{"fill":{"field":"g","type":"nominal"},"stroke":{"field":"g","type":"ordinal"}}},{"mark":"rule","encoding":{"y2":{"field":"u"}}},{"mark":{"type":"tick","size":7},"encoding":{"y":{"field":"u","type":"quantitative"}}}]},
{"transform":[{"filter":"datum.t"}],"layer":[{"mark":"rule","encoding":{"x2":{"field":"g2"}}},{"mark":{"type":"tick","orient":"vertical","size":3},"encoding":{}},{"mark":{"type":"tick","orient":"vertical","size":3},"encoding":{"x":{"field":"g2","type":"nominal"}}},{"transform":[{"filter":"datum.g+datum.g2=='HDVOC'"}],"mark":{"type":"text","baseline":"bottom","dy":1.5},"encoding":{"x":{"datum":"StSt"},"text":{"field":"t"}}},{"transform":[{"filter":"datum.g+datum.g2!='HDVOC'"}],"mark":{"type":"text","baseline":"bottom","dy":1.5,"dx":1.7},"encoding":{"x":{"field":"g","type":"nominal","bandPosition":1},"text":{"field":"t"}}}]},
{"transform":[{"filter":"datum.g=='VOC'&&!datum.t"}],"mark":{"type":"rule","color":"#999"},"encoding":{"x":{"datum":"StSt","bandPosition":0},"x2":{"datum":"VOC","bandPosition":1},"y":{"datum":-130},"y2":null}}]}
]}
]}
]
}
